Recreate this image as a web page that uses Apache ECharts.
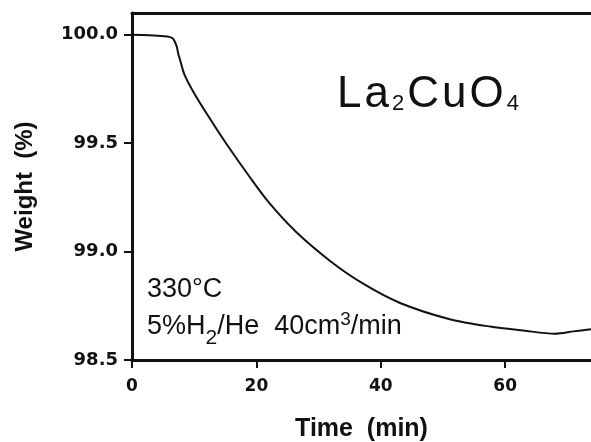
<!DOCTYPE html>
<html>
<head>
<meta charset="utf-8">
<script src="https://cdn.jsdelivr.net/npm/echarts@6/dist/echarts.min.js"></script>
<style>
html,body{margin:0;padding:0;background:#fff;}
#c{width:591px;height:442px;}
</style>
</head>
<body>
<div id="c"></div>
<script>
// Data
const timeMin = [0, 2.8, 5.2, 6.0, 6.5, 6.8, 7.2, 7.4, 7.65, 8.45, 10.3, 13.0, 15.7, 18.9, 22.1, 26.4, 31.8, 37.1, 43.1, 51.1, 57.6, 62.9, 68.0, 71.0, 73.8];
const weightPct = [100.0, 99.997, 99.993, 99.99, 99.984, 99.972, 99.945, 99.917, 99.892, 99.815, 99.715, 99.592, 99.475, 99.345, 99.223, 99.09, 98.958, 98.853, 98.763, 98.688, 98.654, 98.636, 98.621, 98.632, 98.642];
const xTicks = [0, 20, 40, 60];
const yTicks = [98.5, 99.0, 99.5, 100.0];
const xTitle = 'Time  (min)';
const yTitle = 'Weight  (%)';

const ink = '#111';
const chart = echarts.init(document.getElementById('c'), null, {renderer: 'canvas'});
const seriesData = timeMin.map((t, i) => [t, weightPct[i]]);

chart.setOption({
  animation: false,
  backgroundColor: '#fff',
  grid: {left: 132, right: 0, top: 13, bottom: 82, containLabel: false, outerBoundsMode: 'none'},
  xAxis: [{
    type: 'value', min: 0, max: 73.8, interval: 20,
    position: 'bottom',
    name: xTitle, nameLocation: 'middle', nameGap: 57,
    nameTextStyle: {fontFamily: 'Liberation Sans', fontWeight: 'bold', fontSize: 25, color: ink},
    axisLine: {show: true, onZero: false, lineStyle: {color: ink, width: 3}},
    axisTick: {show: true, inside: false, length: 8, lineStyle: {color: ink, width: 2}, customValues: xTicks},
    axisLabel: {show: true, margin: 18, fontFamily: 'DejaVu Sans', fontWeight: 'bold', fontSize: 17, color: ink,
      customValues: xTicks, formatter: v => String(v)},
    splitLine: {show: false}
  }, {
    type: 'value', min: 0, max: 73.8, position: 'top',
    axisLine: {show: true, onZero: false, lineStyle: {color: ink, width: 3}},
    axisTick: {show: false}, axisLabel: {show: false}, splitLine: {show: false}
  }],
  yAxis: [{
    type: 'value', min: 98.5, max: 100.1, interval: 0.5,
    name: yTitle, nameLocation: 'middle', nameGap: 95, nameRotate: 90,
    nameTextStyle: {fontFamily: 'Liberation Sans', fontWeight: 'bold', fontSize: 24, color: ink},
    axisLine: {show: true, onZero: false, lineStyle: {color: ink, width: 3}},
    axisTick: {show: true, inside: false, length: 8, lineStyle: {color: ink, width: 2}, customValues: yTicks},
    axisLabel: {show: true, margin: 14, fontFamily: 'DejaVu Sans', fontWeight: 'bold', fontSize: 18, color: ink,
      padding: [2, 0, 0, 0],
      customValues: yTicks, formatter: v => Number(v).toFixed(1)},
    splitLine: {show: false}
  }],
  series: [{
    type: 'line',
    data: seriesData,
    showSymbol: false,
    smooth: 0.3,
    lineStyle: {color: ink, width: 2},
    clip: true
  }],
  graphic: [
    {
      type: 'text', left: 337, top: 73, silent: true,
      style: {
        text: '{m|L}{m|a}{s|2}{m|C}{m|u}{m|O}{s|4}',
        rich: {
          m: {fontFamily: 'Liberation Sans', fontSize: 44, lineHeight: 44, verticalAlign: 'top', padding: [0, 3, 0, 0], fill: ink},
          s: {fontFamily: 'Liberation Sans', fontSize: 22, lineHeight: 22, verticalAlign: 'top', padding: [20, 3, 0, 0], fill: ink}
        }
      }
    },
    {
      type: 'text', left: 147, top: 276, silent: true,
      style: {text: '330°C', font: '27px "Liberation Sans"', lineHeight: 27, fill: ink}
    },
    {
      type: 'text', left: 147, top: 310, silent: true,
      style: {
        text: '{m|5%H}{s|2}{m|/He  40cm}{p|3}{m|/min}',
        rich: {
          m: {fontFamily: 'Liberation Sans', fontSize: 27, lineHeight: 27, verticalAlign: 'top', padding: [3, 0, 0, 0], fill: ink},
          s: {fontFamily: 'Liberation Sans', fontSize: 21, lineHeight: 21, verticalAlign: 'top', padding: [18, 0, 0, 0], fill: ink},
          p: {fontFamily: 'Liberation Sans', fontSize: 19, lineHeight: 19, verticalAlign: 'top', padding: [0, 0, 0, 0], fill: ink}
        }
      }
    }
  ]
});
</script>
</body>
</html>
